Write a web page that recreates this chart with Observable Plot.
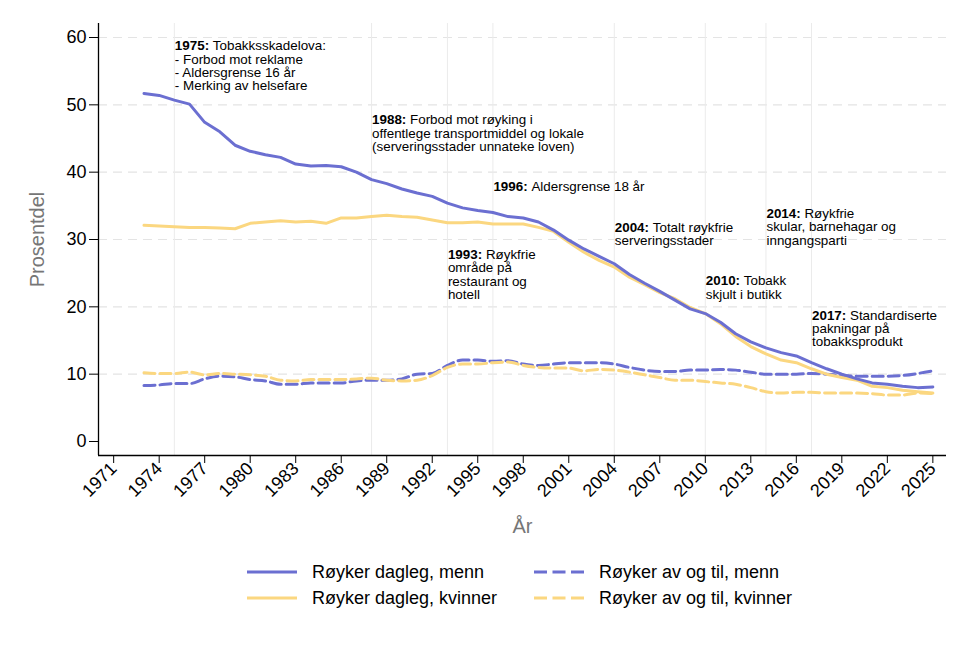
<!DOCTYPE html>
<html>
<head>
<meta charset="utf-8">
<script src="https://cdn.jsdelivr.net/npm/d3@7"></script>
<script src="https://cdn.jsdelivr.net/npm/@observablehq/plot@0.6"></script>
<style>
  html, body { margin: 0; padding: 0; background: #fff; }
  body { width: 970px; height: 647px; overflow: hidden; font-family: "Liberation Sans", Arial, sans-serif; }
  #legend { position: relative; width: 970px; height: 102px; }
  .item { position: absolute; display: flex; align-items: center; height: 22px; font-size: 18px; color: #000; white-space: nowrap; }
  .item svg { margin-right: 15px; }
</style>
</head>
<body>
<div id="chart"></div>
<div id="legend"></div>
<script>
const years = d3.range(1973, 2026);
const dagMenn = [51.7,51.4,50.7,50.1,47.4,46.0,44.0,43.1,42.6,42.2,41.2,40.9,41.0,40.8,40.0,38.9,38.3,37.5,36.9,36.4,35.4,34.7,34.3,34.0,33.4,33.2,32.6,31.4,29.9,28.6,27.5,26.4,24.8,23.5,22.3,21.0,19.7,19.0,17.7,16.0,14.8,13.9,13.2,12.7,11.7,10.8,10.0,9.3,8.7,8.5,8.2,8.0,8.1];
const dagKvinner = [32.1,32.0,31.9,31.8,31.8,31.7,31.6,32.4,32.6,32.8,32.6,32.7,32.4,33.2,33.2,33.4,33.6,33.4,33.3,32.9,32.5,32.5,32.6,32.3,32.3,32.3,31.8,31.2,29.6,28.1,26.9,25.9,24.4,23.3,22.1,21.2,19.9,19.0,17.5,15.6,14.1,13.0,12.1,11.7,10.8,10.0,9.5,9.1,8.2,8.0,7.6,7.4,7.2];
const avMenn = [8.3,8.4,8.6,8.6,9.3,9.7,9.6,9.2,9.0,8.5,8.5,8.7,8.7,8.7,9.0,9.1,9.1,9.3,10.0,10.1,11.3,12.1,12.1,11.9,12.0,11.5,11.3,11.5,11.7,11.7,11.7,11.5,11.0,10.6,10.4,10.4,10.6,10.6,10.7,10.6,10.3,10.0,10.0,10.0,10.1,10.0,9.8,9.7,9.7,9.7,9.8,10.1,10.5];
const avKvinner = [10.2,10.1,10.1,10.3,9.9,10.1,10.0,9.9,9.7,9.1,9.0,9.2,9.2,9.2,9.3,9.4,9.1,9.0,9.1,9.8,11.0,11.5,11.5,11.7,11.8,11.3,11.0,10.9,10.9,10.5,10.7,10.6,10.3,9.9,9.5,9.1,9.1,8.9,8.7,8.5,8.0,7.4,7.2,7.3,7.3,7.2,7.2,7.2,7.1,6.9,6.9,7.2,7.1];

const seriesNames = ["Røyker dagleg, menn", "Røyker dagleg, kvinner", "Røyker av og til, menn", "Røyker av og til, kvinner"];
const xTicks = d3.range(1971, 2026, 3);
const yTicks = [0, 10, 20, 30, 40, 50, 60];
const gridY = [10, 20, 30, 40, 50, 60];

const annoYears = [1975, 1988, 1993, 1996, 2004, 2010, 2014, 2017];
const annoTop = [59.5, 48.5, 28.5, 38.6, 32.5, 24.6, 34.6, 19.5];
const annoLines = [
  ["Tobakksskadelova:", "- Forbod mot reklame", "- Aldersgrense 16 år", "- Merking av helsefare"],
  ["Forbod mot røyking i", "offentlege transportmiddel og lokale", "(serveringsstader unnateke loven)"],
  ["Røykfrie", "område på", "restaurant og", "hotell"],
  ["Aldersgrense 18 år"],
  ["Totalt røykfrie", "serveringsstader"],
  ["Tobakk", "skjult i butikk"],
  ["Røykfrie", "skular, barnehagar og", "inngangsparti"],
  ["Standardiserte", "pakningar på", "tobakksprodukt"]
];

const BLUE = "#6b6fd1";
const YELLOW = "#fbd780";
const FONT = "'Liberation Sans', Arial, sans-serif";
const xDomain = [1970, 2025.9];
const yDomain = [-2.08, 62.08];

const toRows = (vals) => years.map((y, i) => ({year: y, value: vals[i]}));

const annoFs = 13.4, annoLH = 1.0;
const ctx = document.createElement("canvas").getContext("2d");
ctx.font = `bold ${annoFs}px ${FONT}`;

const annoMarks = annoYears.flatMap((yr, i) => {
  const d = [{x: yr, y: annoTop[i]}];
  const prefix = yr + ":";
  const w = ctx.measureText(prefix + " ").width;
  const lines = annoLines[i];
  const marks = [
    Plot.text(d, {x: "x", y: "y", text: () => prefix, textAnchor: "start", lineAnchor: "top", dx: 0.5, fontWeight: "bold", fontSize: annoFs, fill: "#000"}),
    Plot.text(d, {x: "x", y: "y", text: () => lines[0], textAnchor: "start", lineAnchor: "top", dx: 0.5 + w, fontSize: annoFs, fill: "#000"})
  ];
  if (lines.length > 1) {
    marks.push(Plot.text(d, {x: "x", y: "y", text: () => lines.slice(1).join("\n"), textAnchor: "start", lineAnchor: "top", dx: 0.5, dy: 13.3, lineHeight: 13.3 / annoFs, fontSize: annoFs, fill: "#000"}));
  }
  return marks;
});

const chart = Plot.plot({
  width: 970,
  height: 545,
  marginLeft: 98,
  marginRight: 24,
  marginTop: 23,
  marginBottom: 90,
  style: {fontFamily: FONT, fontSize: "18px", color: "#000", background: "#fff", overflow: "visible"},
  x: {domain: xDomain, ticks: xTicks, tickFormat: d => String(d), tickRotate: -45, tickSize: 8, tickPadding: 2, label: null},
  y: {domain: yDomain, ticks: yTicks, tickSize: 9, tickPadding: 3, label: null},
  marks: [
    Plot.ruleY(gridY, {stroke: "#e4e4e4", strokeWidth: 1.2, strokeDasharray: "9,6"}),
    Plot.ruleX(annoYears, {stroke: "#ebebeb", strokeWidth: 1}),
    Plot.line(toRows(avMenn), {x: "year", y: "value", stroke: BLUE, strokeWidth: 3, strokeDasharray: "11,5", curve: "monotone-x"}),
    Plot.line(toRows(avKvinner), {x: "year", y: "value", stroke: YELLOW, strokeWidth: 3, strokeDasharray: "11,5", curve: "monotone-x"}),
    Plot.line(toRows(dagKvinner), {x: "year", y: "value", stroke: YELLOW, strokeWidth: 3}),
    Plot.line(toRows(dagMenn), {x: "year", y: "value", stroke: BLUE, strokeWidth: 3}),
    Plot.ruleX([xDomain[0]], {stroke: "#000", strokeWidth: 1.3}),
    Plot.ruleY([yDomain[0]], {stroke: "#000", strokeWidth: 1.3}),
    ...annoMarks,
    Plot.text(["Prosentdel"], {frameAnchor: "left", text: d => d, dx: -60.5, rotate: -90, textAnchor: "middle", lineAnchor: "middle", fontSize: 20, fill: "#767676"}),
    Plot.text(["År"], {frameAnchor: "bottom", text: d => d, dy: 77, textAnchor: "middle", lineAnchor: "bottom", fontSize: 20, fill: "#767676"})
  ]
});
document.getElementById("chart").appendChild(chart);

// legend
const legend = document.getElementById("legend");
const legendItems = [
  {name: seriesNames[0], color: BLUE, dash: null, left: 247, top: 16},
  {name: seriesNames[1], color: YELLOW, dash: null, left: 247, top: 42},
  {name: seriesNames[2], color: BLUE, dash: "13,5.5", left: 534, top: 16},
  {name: seriesNames[3], color: YELLOW, dash: "13,5.5", left: 534, top: 42}
];
for (const it of legendItems) {
  const div = document.createElement("div");
  div.className = "item";
  div.style.left = it.left + "px";
  div.style.top = it.top + "px";
  div.innerHTML = `<svg width="50" height="6"><line x1="0" y1="3" x2="50" y2="3" stroke="${it.color}" stroke-width="3" ${it.dash ? `stroke-dasharray="${it.dash}"` : ""}/></svg><span>${it.name}</span>`;
  legend.appendChild(div);
}
</script>
</body>
</html>
